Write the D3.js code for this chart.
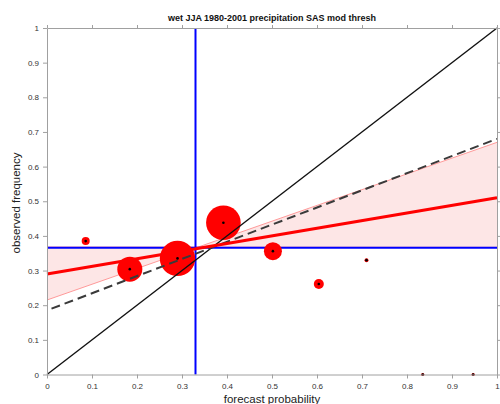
<!DOCTYPE html>
<html><head><meta charset="utf-8">
<script src="https://cdn.jsdelivr.net/npm/d3@7"></script>
<style>html,body{margin:0;padding:0;background:#fff;}svg{display:block;}</style>
</head><body>
<svg id="chart" width="500" height="404"></svg>
<script>
const title = "wet JJA 1980-2001 precipitation SAS mod thresh";
const xLabel = "forecast probability";
const yLabel = "observed frequency";
const tickValues = [0,0.1,0.2,0.3,0.4,0.5,0.6,0.7,0.8,0.9,1];
const tickLabels = ["0","0.1","0.2","0.3","0.4","0.5","0.6","0.7","0.8","0.9","1"];
// reliability points: forecast probability, observed frequency, count (marker size)
const fcstProb = [0.086, 0.184, 0.290, 0.392, 0.502, 0.604, 0.710, 0.835, 0.947];
const obsFreq  = [0.385, 0.304, 0.335, 0.438, 0.356, 0.261, 0.330, 0.0, 0.0];
const counts   = [16, 156, 313, 300, 81, 25, 4, 2, 2];
const climFcst = 0.33;
const climObs = 0.366;
const fitLine = [[0, 0.29], [1, 0.51]];
const dashedLine = [[0.01, 0.19], [1, 0.68]];
const bandLineA = [[0, 0.215], [1, 0.67]];
const bandLineB = [[0, 0.368], [1, 0.367]];

const svg = d3.select("#chart");
const m = {l:47, r:3, t:28, b:29.5};
const W = 500, H = 404;
const x = d3.scaleLinear().domain([0,1]).range([m.l, W - m.r]);
const y = d3.scaleLinear().domain([0,1]).range([H - m.b, m.t]);
const rScale = d3.scaleSqrt().domain([0, d3.max(counts)]).range([0, 17.7]);

// band (bow-tie region between two lines)
const xs = d3.range(0, 1.0001, 0.01);
const lineAt = (L, xv) => L[0][1] + (L[1][1]-L[0][1])*(xv-L[0][0])/(L[1][0]-L[0][0]);
svg.append("path")
  .datum(xs)
  .attr("d", d3.area()
    .x(d => x(d))
    .y0(d => y(Math.min(lineAt(bandLineA,d), lineAt(bandLineB,d))))
    .y1(d => y(Math.max(lineAt(bandLineA,d), lineAt(bandLineB,d)))))
  .attr("fill", "#fde6e6");
const line = d3.line().x(d => x(d[0])).y(d => y(d[1]));
[bandLineA, bandLineB].forEach(L => svg.append("path").attr("d", line(L))
  .attr("fill","none").attr("stroke","#ff9a9a").attr("stroke-width",1));

// climatology lines
svg.append("line").attr("x1", x(climFcst)).attr("x2", x(climFcst)).attr("y1", y(0)).attr("y2", y(1))
  .attr("stroke","#0000ff").attr("stroke-width",2);
svg.append("line").attr("x1", x(0)).attr("x2", x(1)).attr("y1", y(climObs)).attr("y2", y(climObs))
  .attr("stroke","#0000ff").attr("stroke-width",2);

// circles
svg.selectAll("circle.pt").data(fcstProb).enter().append("circle")
  .attr("class","pt")
  .attr("cx", (d,i) => x(d)).attr("cy", (d,i) => y(obsFreq[i]))
  .attr("r", (d,i) => Math.max(rScale(counts[i]), 1.6))
  .attr("fill", "#ff0000");

// diagonal
svg.append("path").attr("d", line([[0,0],[1,1]]))
  .attr("fill","none").attr("stroke","#111").attr("stroke-width",1.4);
// dashed
svg.append("path").attr("d", line(dashedLine))
  .attr("fill","none").attr("stroke","#3a3a3a").attr("stroke-width",2).attr("stroke-dasharray","9,5");
// fit line
svg.append("path").attr("d", line(fitLine))
  .attr("fill","none").attr("stroke","#ff0000").attr("stroke-width",3.2);

// center dots
svg.selectAll("circle.dot").data(fcstProb).enter().append("circle")
  .attr("class","dot")
  .attr("cx", d => x(d)).attr("cy", (d,i) => y(obsFreq[i]))
  .attr("r", 1.3).attr("fill", "#000");

// axes
const fmt = (d,i) => tickLabels[tickValues.indexOf(d)];
const styleAxis = g => {
  g.selectAll("path").attr("stroke","#a0a0a0");
  g.selectAll("line").attr("stroke","#a0a0a0");
  g.selectAll("text").attr("fill","#333").style("font-family","Liberation Sans, Arial, sans-serif").style("font-size","8px");
};
svg.append("g").attr("transform",`translate(0,${y(0)})`)
  .call(d3.axisBottom(x).tickValues(tickValues).tickFormat(fmt).tickSize(4).tickSizeOuter(0).tickPadding(5)).call(styleAxis);
svg.append("g").attr("transform",`translate(${x(0)},0)`)
  .call(d3.axisLeft(y).tickValues(tickValues).tickFormat(fmt).tickSize(4).tickSizeOuter(0).tickPadding(4)).call(styleAxis);
svg.append("g").attr("transform",`translate(0,${y(1)})`)
  .call(d3.axisTop(x).tickValues(tickValues).tickFormat("").tickSize(3).tickSizeOuter(0)).call(styleAxis);
svg.append("g").attr("transform",`translate(${x(1)},0)`)
  .call(d3.axisRight(y).tickValues(tickValues).tickFormat("").tickSize(3).tickSizeOuter(0)).call(styleAxis);

// title & labels
svg.append("text").attr("x", 272).attr("y", 21).attr("text-anchor","middle")
  .style("font-family","Liberation Sans, Arial, sans-serif").style("font-size","9px").style("font-weight","bold")
  .attr("fill","#111").text(title);
svg.append("text").attr("x", 272).attr("y", 403).attr("text-anchor","middle")
  .style("font-family","Liberation Sans, Arial, sans-serif").style("font-size","11.5px")
  .attr("fill","#222").text(xLabel);
svg.append("text").attr("transform","translate(20,203) rotate(-90)").attr("text-anchor","middle")
  .style("font-family","Liberation Sans, Arial, sans-serif").style("font-size","11.5px")
  .attr("fill","#222").text(yLabel);
</script>
</body></html>
